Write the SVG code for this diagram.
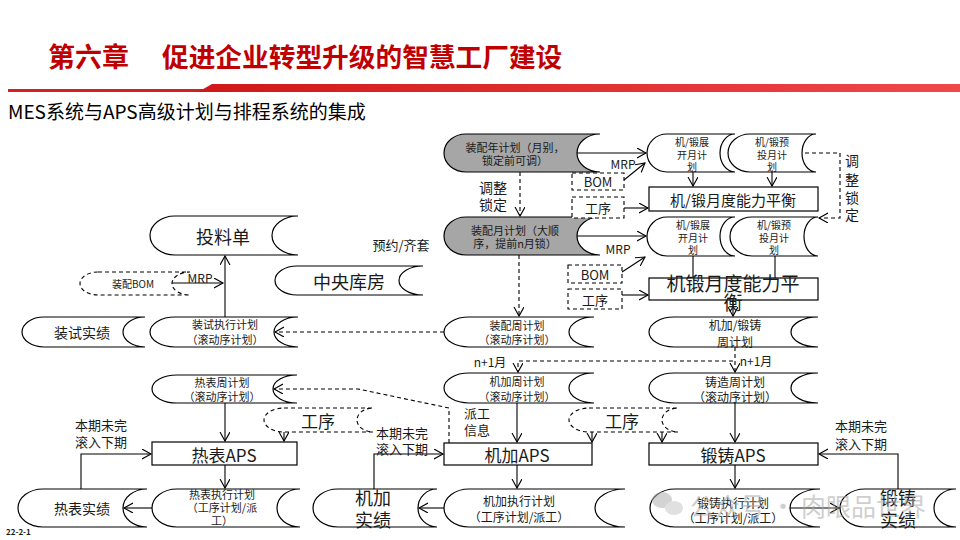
<svg xmlns="http://www.w3.org/2000/svg" width="960" height="540" viewBox="0 0 960 540">
<defs>
<linearGradient id="rg" x1="0" y1="0" x2="1" y2="0"><stop offset="0" stop-color="#d01818"/><stop offset="1" stop-color="#f04848"/></linearGradient>
<marker id="ah" markerUnits="userSpaceOnUse" markerWidth="12" markerHeight="12" refX="9" refY="5" orient="auto"><path d="M0,0 L9,5 L0,10" fill="none" stroke="#000" stroke-width="1.1"/></marker>
</defs>
<style>
.n{fill:none;stroke:#000;stroke-width:1.2}
.g{fill:#a6a6a6;stroke:#000;stroke-width:1.2}
.nd{fill:none;stroke:#000;stroke-width:1.1;stroke-dasharray:4,3}
.b{fill:#fff;stroke:#000;stroke-width:1.2}
.bd{fill:#fff;stroke:#000;stroke-width:1.1;stroke-dasharray:4,3}
.c{fill:none;stroke:#000;stroke-width:1.1}
.cd{fill:none;stroke:#000;stroke-width:1.1;stroke-dasharray:4,3}
.a{marker-end:url(#ah)}
text{font-family:"Noto Sans CJK SC","Noto Sans",sans-serif;fill:#1a1a1a;text-anchor:middle;dominant-baseline:central}
.s10{font-size:10px}.s11{font-size:11px}.s12{font-size:12px}.s13{font-size:13px}.s14{font-size:14px}.s15{font-size:15px}.s17{font-size:17px}.s18{font-size:18px}.s19{font-size:19px}
</style>
<rect width="960" height="540" fill="#fff"/>
<!-- header -->
<g id="header">
<text x="48" y="55" style="font-size:27px;font-weight:bold;fill:#c00000;text-anchor:start">第六章</text>
<text x="162" y="55" style="font-size:26.7px;font-weight:bold;fill:#c00000;text-anchor:start">促进企业转型升级的智慧工厂建设</text>
<rect x="8" y="89" width="200" height="3" fill="#d42020"/>
<polygon points="198,92 212,84 960,84 960,92" fill="url(#rg)"/>
<text x="8" y="110" style="font-size:19px;text-anchor:start;fill:#000">MES系统与APS高级计划与排程系统的集成</text>
<text x="6" y="531" style="font-size:8px;font-weight:bold;text-anchor:start">22-2-1</text>
</g>
<!-- connectors -->
<g id="connectors">
<line class="c a" x1="577" y1="153" x2="646" y2="153"/>
<line class="c a" x1="624" y1="180" x2="645" y2="163"/>
<line class="c a" x1="624" y1="208" x2="648" y2="208"/>
<line class="c a" x1="693" y1="172" x2="693" y2="186"/>
<line class="c a" x1="772" y1="172" x2="772" y2="186"/>
<path class="cd a" d="M805,153 H840 V218 H819"/>
<line class="cd a" x1="520" y1="172" x2="520" y2="216"/>
<line class="c a" x1="577" y1="236" x2="646" y2="236"/>
<line class="c a" x1="622" y1="272" x2="645" y2="257"/>
<line class="c a" x1="622" y1="295" x2="648" y2="295"/>
<line class="c" x1="693" y1="256" x2="693" y2="278"/>
<line class="c" x1="775" y1="256" x2="775" y2="278"/>
<line class="cd a" x1="519" y1="255" x2="519" y2="316"/>
<line class="c a" x1="733" y1="300" x2="733" y2="316"/>
<line class="cd a" x1="444" y1="332" x2="275" y2="332"/>
<line class="c a" x1="225" y1="317" x2="225" y2="256"/>
<line class="c a" x1="172" y1="283" x2="223" y2="283"/>
<line class="cd a" x1="735" y1="347" x2="735" y2="372"/>
<path class="cd a" d="M733,361 H518 V372"/>
<line class="c a" x1="225" y1="403" x2="225" y2="441"/>
<line class="c a" x1="517" y1="403" x2="517" y2="442"/>
<line class="c a" x1="735" y1="403" x2="735" y2="442"/>
<line class="c a" x1="284" y1="432" x2="284" y2="441"/>
<line class="c a" x1="592" y1="432" x2="592" y2="442"/>
<line class="c a" x1="662" y1="432" x2="662" y2="442"/>
<path class="cd a" d="M449,443 V408 L358,389 H274"/>
<line class="c a" x1="225" y1="465" x2="225" y2="488"/>
<line class="c a" x1="517" y1="465" x2="517" y2="488"/>
<line class="c a" x1="735" y1="465" x2="735" y2="488"/>
<line class="c a" x1="152" y1="508" x2="124" y2="508"/>
<line class="c a" x1="444" y1="508" x2="419" y2="508"/>
<line class="c a" x1="790" y1="508" x2="839" y2="508"/>
<path class="c a" d="M81,489 V454 H151"/>
<path class="c a" d="M374,489 V454 H443"/>
<path class="c a" d="M898,489 V454 H819"/>
</g>
<!-- labels on connectors -->
<g id="labels">
<text class="s12" x="623" y="163">MRP</text>
<text class="s12" x="618" y="248">MRP</text>
<text class="s12" x="200" y="277">MRP</text>
<text class="s14" x="493" y="187">调整</text>
<text class="s14" x="493" y="204">锁定</text>
<text class="s14" x="852" y="160">调</text>
<text class="s14" x="852" y="179">整</text>
<text class="s14" x="852" y="197">锁</text>
<text class="s14" x="852" y="214">定</text>
<text class="s13" x="401" y="244">预约/齐套</text>
<text class="s12" x="490" y="361">n+1月</text>
<text class="s12" x="756" y="360">n+1月</text>
<text class="s13" x="477" y="412">派工</text>
<text class="s13" x="477" y="429">信息</text>
<text class="s13" x="101" y="424">本期未完</text>
<text class="s13" x="101" y="441">滚入下期</text>
<text class="s13" x="402" y="432">本期未完</text>
<text class="s13" x="402" y="448">滚入下期</text>
<text class="s13" x="861" y="425">本期未完</text>
<text class="s13" x="861" y="443">滚入下期</text>
</g>
<!-- nodes -->
<g id="n-zpnian"><path class="g" d="M466,134 H600 A23,19 0 0 0 600,172 H466 A22,19 0 0 1 466,134 Z"/><text class="s11" x="515" y="147">装配年计划（月别，</text><text class="s11" x="515" y="160">锁定前可调）</text></g>
<g id="n-zpyue"><path class="g" d="M466,217 H600 A23,19 0 0 0 600,255 H466 A22,19 0 0 1 466,217 Z"/><text class="s11" x="515" y="230">装配月计划（大顺</text><text class="s11" x="515" y="243">序，提前n月锁）</text></g>
<g id="n-jzzk1"><path class="b" d="M667,134 H735 A15,19 0 0 0 735,172 H667 A20,19 0 0 1 667,134 Z"/><text class="s10" x="692" y="141">机/锻展</text><text class="s10" x="692" y="154">开月计</text><text class="s10" x="692" y="166">划</text></g>
<g id="n-jzyt1"><path class="b" d="M750,134 H816 A14,19 0 0 0 816,172 H750 A22,19 0 0 1 750,134 Z"/><text class="s10" x="772" y="141">机/锻预</text><text class="s10" x="772" y="154">投月计</text><text class="s10" x="772" y="166">划</text></g>
<g id="n-nlph1"><rect class="b" x="649" y="187" width="169" height="24"/><text class="s15" x="733" y="199">机/锻月度能力平衡</text></g>
<g id="n-bom1"><rect class="bd" x="572" y="173" width="52" height="17"/><text class="s13" x="598" y="181">BOM</text></g>
<g id="n-gx1"><rect class="bd" x="572" y="197" width="52" height="21"/><text class="s13" x="598" y="207">工序</text></g>
<g id="n-jzzk2"><path class="b" d="M667,217 H735 A15,19.5 0 0 0 735,256 H667 A20,19.5 0 0 1 667,217 Z"/><text class="s10" x="693" y="224">机/锻展</text><text class="s10" x="693" y="237">开月计</text><text class="s10" x="693" y="249">划</text></g>
<g id="n-jzyt2"><path class="b" d="M752,217 H818 A14,19.5 0 0 0 818,256 H752 A22,19.5 0 0 1 752,217 Z"/><text class="s10" x="774" y="224">机/锻预</text><text class="s10" x="774" y="237">投月计</text><text class="s10" x="774" y="249">划</text></g>
<g id="n-nlph2"><rect class="n" x="649" y="278" width="169" height="22"/><text class="s19" x="733" y="282">机锻月度能力平</text><text class="s19" x="733" y="301">衡</text></g>
<g id="n-bom2"><rect class="bd" x="568" y="265" width="54" height="18"/><text class="s13" x="595" y="274">BOM</text></g>
<g id="n-gx2"><rect class="bd" x="568" y="289" width="54" height="20"/><text class="s13" x="595" y="299">工序</text></g>
<g id="n-tld"><path class="b" d="M175,216 H298 A26,19.5 0 0 0 298,255 H175 A25,19.5 0 0 1 175,216 Z"/><text class="s18" x="223" y="236">投料单</text></g>
<g id="n-zykf"><path class="b" d="M297,266 H423 A24,14.5 0 0 0 423,295 H297 A22,14.5 0 0 1 297,266 Z"/><text class="s18" x="349" y="281">中央库房</text></g>
<g id="n-zpbom"><path class="nd" d="M98,272 H190 A18,11.5 0 0 0 190,295 H98 A18,11.5 0 0 1 98,272 Z"/><text class="s10" x="133" y="283">装配BOM</text></g>
<g id="n-zszx"><path class="n" d="M175,317 H298 A24,15 0 0 0 298,347 H175 A25,15 0 0 1 175,317 Z"/><text class="s11" x="225" y="324">装试执行计划</text><text class="s11" x="225" y="339">（滚动序计划）</text></g>
<g id="n-zssj"><path class="n" d="M44,317 H145 A22,15 0 0 0 145,347 H44 A22,15 0 0 1 44,317 Z"/><text class="s14" x="82" y="332">装试实绩</text></g>
<g id="n-zpzhou"><path class="n" d="M469,317 H594 A25,15 0 0 0 594,347 H469 A25,15 0 0 1 469,317 Z"/><text class="s11" x="517" y="325">装配周计划</text><text class="s11" x="517" y="339">（滚动序计划）</text></g>
<g id="n-jjdz"><path class="n" d="M674,317 H818 A27,15 0 0 0 818,347 H674 A25,15 0 0 1 674,317 Z"/><text class="s12" x="735" y="324">机加/锻铸</text><text class="s12" x="735" y="341">周计划</text></g>
<g id="n-rbzhou"><path class="n" d="M177,375 H297 A24,14 0 0 0 297,403 H177 A25,14 0 0 1 177,375 Z"/><text class="s11" x="222" y="382">热表周计划</text><text class="s11" x="222" y="396">（滚动序计划）</text></g>
<g id="n-jjzhou"><path class="n" d="M469,373 H594 A25,15 0 0 0 594,403 H469 A25,15 0 0 1 469,373 Z"/><text class="s11" x="517" y="381">机加周计划</text><text class="s11" x="517" y="396">（滚动序计划）</text></g>
<g id="n-zzzhou"><path class="n" d="M674,373 H818 A27,15 0 0 0 818,403 H674 A25,15 0 0 1 674,373 Z"/><text class="s12" x="735" y="381">铸造周计划</text><text class="s12" x="735" y="396">（滚动序计划）</text></g>
<g id="n-gxA"><path class="nd" d="M284,408 H373 A16,12 0 0 0 373,432 H284 A20,12 0 0 1 284,408 Z"/><text class="s17" x="318" y="420">工序</text></g>
<g id="n-gxB"><path class="nd" d="M589,408 H678 A16,12 0 0 0 678,432 H589 A20,12 0 0 1 589,408 Z"/><text class="s17" x="622" y="420">工序</text></g>
<g id="n-rbaps"><rect class="n" x="152" y="442" width="145" height="23"/><text class="s17" x="224" y="454">热表APS</text></g>
<g id="n-jjaps"><rect class="n" x="444" y="443" width="148" height="22"/><text class="s17" x="517" y="454">机加APS</text></g>
<g id="n-dzaps"><rect class="n" x="649" y="443" width="169" height="22"/><text class="s17" x="733" y="454">锻铸APS</text></g>
<g id="n-rbzx"><path class="n" d="M177,489 H300 A23,19 0 0 0 300,527 H177 A25,19 0 0 1 177,489 Z"/><text class="s11" x="222" y="494">热表执行计划</text><text class="s11" x="222" y="507">（工序计划/派</text><text class="s11" x="222" y="520">工）</text></g>
<g id="n-rbsj"><path class="n" d="M43,489 H147 A24,19 0 0 0 147,527 H43 A25,19 0 0 1 43,489 Z"/><text class="s14" x="82" y="508">热表实绩</text></g>
<g id="n-jjsj"><path class="n" d="M338,489 H437 A19,19 0 0 0 437,527 H338 A25,19 0 0 1 338,489 Z"/><text class="s18" x="373" y="497">机加</text><text class="s18" x="373" y="519">实绩</text></g>
<g id="n-jjzx"><path class="n" d="M469,489 H625 A30,19 0 0 0 625,527 H469 A25,19 0 0 1 469,489 Z"/><text class="s12" x="519" y="500">机加执行计划</text><text class="s12" x="519" y="516">（工序计划/派工）</text></g>
<g id="n-dzzx"><path class="n" d="M675,489 H820 A30,19 0 0 0 820,527 H675 A25,19 0 0 1 675,489 Z"/><text class="s12" x="733" y="502">锻铸执行计划</text><text class="s12" x="733" y="517">（工序计划/派工）</text></g>
<g id="n-dzsj"><path class="n" d="M865,489 H956 A22,19 0 0 0 956,527 H865 A25,19 0 0 1 865,489 Z"/><text class="s18" x="898" y="497">锻铸</text><text class="s18" x="898" y="519">实绩</text></g>
<!-- watermark -->
<g id="watermark" opacity="0.55">
<ellipse cx="662" cy="500" rx="10" ry="8" fill="#b0b0b0"/><ellipse cx="674" cy="508" rx="9" ry="7" fill="#c8c8c8"/>
<text x="808" y="505" style="font-size:25px;fill:#a8a8a8">公众号 · 肉眼品世界</text>
</g>
</svg>
